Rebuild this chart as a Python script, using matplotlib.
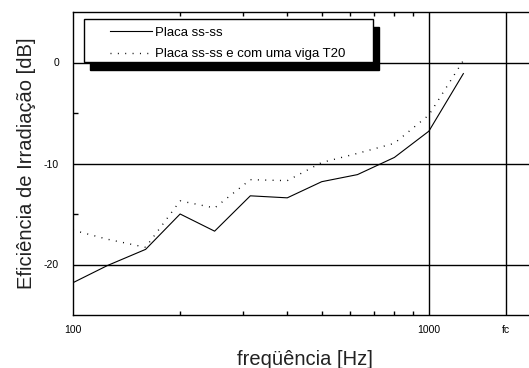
import matplotlib
matplotlib.use("Agg")
import matplotlib.pyplot as plt
from matplotlib.patches import Rectangle
from matplotlib.ticker import FixedLocator, NullFormatter

plt.rcParams['font.family'] = ['Liberation Sans', 'DejaVu Sans']

# 1/3 octave band centres [Hz]
freq = [100, 125, 160, 200, 250, 315, 400, 500, 630, 800, 1000, 1250]
placa = [-21.8, -20.1, -18.5, -15.0, -16.7, -13.2, -13.4, -11.8, -11.1, -9.4, -6.8, -1.1]
placa_viga = [-16.6, -17.5, -18.3, -13.7, -14.4, -11.6, -11.7, -9.9, -9.0, -8.0, -5.2, 0.2]

fc = 1650
xticks = [100, 1000, fc]
xticklabels = ['100', '1000', 'fc']
yticks = [0, -10, -20]
yticklabels = ['0', '-10', '-20']
labels = ['Placa ss-ss', 'Placa ss-ss e com uma viga T20']

fig = plt.figure(figsize=(5.29, 3.68), dpi=100)
ax = fig.add_axes([73/529, 53/368, 463/529, 303/368])

for x in xticks[1:]:
	ax.axvline(x, color='black', lw=1.0, zorder=1)
for y in yticks:
	ax.axhline(y, color='black', lw=1.0, zorder=1)

l1, = ax.plot(freq, placa, color='black', lw=0.8, zorder=3)
l2, = ax.plot(freq, placa_viga, color='black', lw=1.0, linestyle=(0, (0.7, 4.6)), zorder=3)

ax.set_xscale('log')
ax.set_xlim(100, 2000)
ax.set_ylim(-25, 5)

ax.xaxis.set_major_locator(FixedLocator(xticks))
ax.set_xticklabels(xticklabels)
ax.xaxis.set_minor_locator(FixedLocator([200, 300, 400, 500, 600, 700, 800, 900]))
ax.xaxis.set_minor_formatter(NullFormatter())
ax.set_yticks(yticks)
ax.set_yticklabels(yticklabels)
ax.yaxis.set_minor_locator(FixedLocator([-5, -15]))

ax.tick_params(which='major', length=0, labelsize=7.5, pad=7)
ax.tick_params(axis='y', which='major', pad=10)
ax.tick_params(axis='x', which='minor', direction='in', length=3, width=1, top=True, bottom=True)
ax.tick_params(axis='y', which='minor', direction='in', length=3.5, width=1, left=True)

for s in ax.spines.values():
	s.set_linewidth(1.0)
ax.spines['right'].set_visible(False)

ax.set_xlabel('freqüência [Hz]', fontsize=14.5, color='#222222', labelpad=11)
ax.set_ylabel('Eficiência de Irradiação [dB]', fontsize=14.5, color='#222222', labelpad=6)

# legend box with hard black shadow
ax.add_patch(Rectangle((0.036, 0.810), 0.624, 0.142, transform=ax.transAxes,
	facecolor='black', edgecolor='black', zorder=4, clip_on=False))
ax.add_patch(Rectangle((0.023, 0.836), 0.624, 0.142, transform=ax.transAxes,
	facecolor='white', edgecolor='black', lw=1.0, zorder=4.5, clip_on=False))
ax.legend([l1, l2], labels, loc='upper left', bbox_to_anchor=(0.080, 0.952),
	frameon=False, borderpad=0, borderaxespad=0, handlelength=3.2,
	handletextpad=0.2, labelspacing=0.7, fontsize=9.5).set_zorder(5)

fig.savefig('out.png', dpi=100)
